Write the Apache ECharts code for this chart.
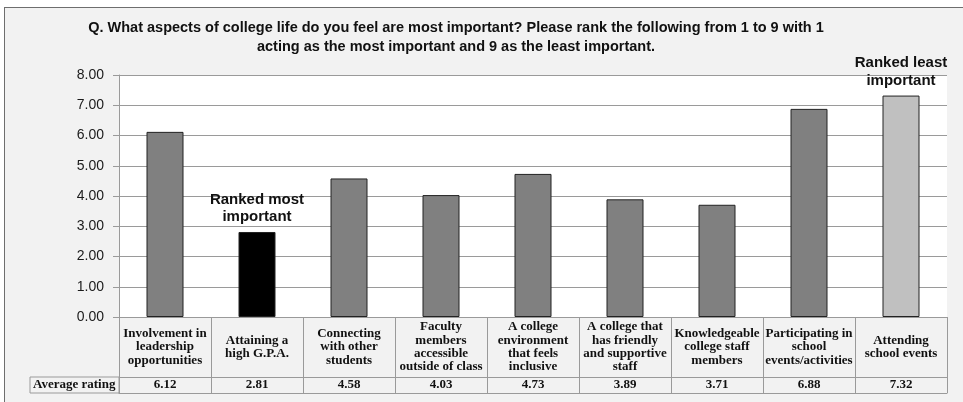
<!DOCTYPE html>
<html>
<head>
<meta charset="utf-8">
<script src="https://cdn.jsdelivr.net/npm/echarts@6/dist/echarts.min.js"></script>
<style>
  html, body { margin: 0; padding: 0; background: #ffffff; }
  #frame { position: absolute; left: 4px; top: 7px; width: 1000px; height: 420px;
           background: #f2f2f2; border: 1px solid #6e6e6e; }
  #chart { position: absolute; left: 0; top: 0; width: 963px; height: 402px; }
</style>
</head>
<body>
<div id="frame"></div>
<div id="chart"></div>
<script>
const titleText = 'Q. What aspects of college life do you feel are most important? Please rank the following from 1 to 9 with 1\nacting as the most important and 9 as the least important.';
const categories = [
  'Involvement in\nleadership\nopportunities',
  'Attaining a\nhigh G.P.A.',
  'Connecting\nwith other\nstudents',
  'Faculty\nmembers\naccessible\noutside of class',
  'A college\nenvironment\nthat feels\ninclusive',
  'A college that\nhas friendly\nand supportive\nstaff',
  'Knowledgeable\ncollege staff\nmembers',
  'Participating in\nschool\nevents/activities',
  'Attending\nschool events'
];
const averageRating = [6.12, 2.81, 4.58, 4.03, 4.73, 3.89, 3.71, 6.88, 7.32];
const rowHeader = 'Average rating';
const mostLabel = 'Ranked most\nimportant';
const leastLabel = 'Ranked least\nimportant';
const yTicks = { min: 0, max: 8, interval: 1 };

const minVal = Math.min(...averageRating);
const maxVal = Math.max(...averageRating);

const chart = echarts.init(document.getElementById('chart'));
const tableFont = { fontFamily: '"Liberation Serif", "DejaVu Serif", serif', fontWeight: 'bold', fontSize: 13, color: '#111' };
const lineColor = '#9a9a9a';

chart.setOption({
  backgroundColor: 'transparent',
  animation: false,
  title: {
    text: titleText,
    left: 451,
    top: 13,
    textAlign: 'center',
    textStyle: { fontFamily: 'Arial, "Liberation Sans", sans-serif', fontWeight: 'bold', fontSize: 14.5, lineHeight: 19, color: '#111' }
  },
  grid: { left: 119, right: 16, top: 75, bottom: 85, show: true, backgroundColor: '#ffffff', borderWidth: 0 },
  xAxis: [
    {
      type: 'category', data: categories, position: 'bottom',
      axisLine: { show: true, lineStyle: { color: lineColor, width: 1 } },
      axisTick: { show: true, length: 76, lineStyle: { color: lineColor, width: 1 } },
      axisLabel: Object.assign({ interval: 0, margin: 30, verticalAlign: 'middle', align: 'center', lineHeight: 13.3 }, tableFont),
      splitLine: { show: false }
    },
    {
      type: 'category', data: categories, position: 'bottom', offset: 60,
      axisLine: { show: true, lineStyle: { color: lineColor, width: 1 } },
      axisTick: { show: true, length: 16, lineStyle: { color: lineColor, width: 1 } },
      axisLabel: Object.assign({ interval: 0, margin: 8, verticalAlign: 'middle',
        formatter: function (v, i) { return averageRating[i].toFixed(2); } }, tableFont),
      splitLine: { show: false }
    },
    {
      type: 'category', data: categories, position: 'bottom', offset: 76,
      axisLine: { show: true, lineStyle: { color: lineColor, width: 1 } },
      axisTick: { show: false }, axisLabel: { show: false }, splitLine: { show: false }
    }
  ],
  yAxis: {
    type: 'value', min: yTicks.min, max: yTicks.max, interval: yTicks.interval,
    axisLine: { show: true, lineStyle: { color: lineColor } },
    axisTick: { show: true, length: 6, lineStyle: { color: lineColor } },
    axisLabel: { margin: 15, fontFamily: 'Arial, "Liberation Sans", sans-serif', fontSize: 14, color: '#1a1a1a',
      formatter: function (v) { return v.toFixed(2); } },
    splitLine: { show: true, lineStyle: { color: lineColor, width: 1 } }
  },
  graphic: [
    { type: 'rect', shape: { x: 30, y: 377, width: 89, height: 16 }, style: { fill: '#f2f2f2', stroke: lineColor, lineWidth: 1 }, z: 10 },
    { type: 'text', x: 33, y: 385, style: { text: rowHeader, verticalAlign: 'middle', fill: '#111',
        font: 'bold 13px "Liberation Serif", serif' }, z: 11 }
  ],
  series: [{
    type: 'bar',
    xAxisIndex: 0,
    data: averageRating,
    barWidth: 37,
    itemStyle: {
      borderColor: '#222', borderWidth: 1,
      color: function (p) {
        if (p.value === minVal) return '#000000';
        if (p.value === maxVal) return '#c0c0c0';
        return '#808080';
      }
    },
    label: {
      show: true, position: 'top', distance: 6,
      fontFamily: 'Arial, "Liberation Sans", sans-serif', fontWeight: 'bold', fontSize: 15, lineHeight: 17.5, color: '#111',
      formatter: function (p) {
        if (p.value === minVal) return mostLabel;
        if (p.value === maxVal) return leastLabel;
        return '';
      }
    }
  }]
});
</script>
</body>
</html>
